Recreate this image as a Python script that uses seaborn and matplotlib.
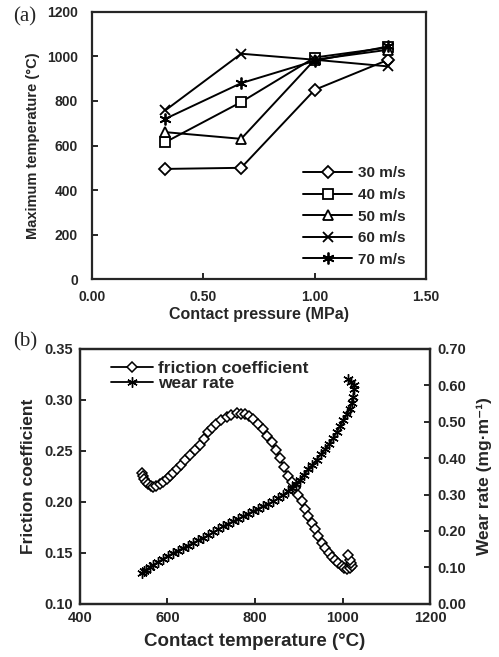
import matplotlib
matplotlib.use("Agg")
import matplotlib.pyplot as plt
import seaborn as sns
import pandas as pd

# --- datos panel (a): temperatura maxima vs presion de contacto ---
pressure = [0.33, 0.67, 1.00, 1.33]
temp_30 = [495, 500, 850, 985]
temp_40 = [615, 795, 995, 1040]
temp_50 = [660, 630, 985, 1030]
temp_60 = [758, 1012, 985, 955]
temp_70 = [720, 880, 980, 1045]
speed_labels = ["30 m/s", "40 m/s", "50 m/s", "60 m/s", "70 m/s"]

# --- datos panel (b): coeficiente de friccion y tasa de desgaste ---
fric_temp = [543, 544, 546, 550, 556, 562, 568, 575, 583, 590, 598, 605, 613,
             622, 632, 641, 651, 662, 674, 683, 693, 702, 712, 723, 735, 746,
             758, 768, 777, 786, 796, 808, 819, 828, 838, 847, 857, 866, 876,
             884, 891, 899, 907, 915, 922, 930, 937, 945, 952, 960, 968, 975,
             983, 990, 998, 1004, 1010, 1016, 1021, 1019, 1017, 1013]
fric_coef = [0.228, 0.225, 0.222, 0.219, 0.217, 0.2155, 0.215, 0.2155, 0.217,
             0.219, 0.222, 0.225, 0.228, 0.232, 0.2365, 0.241, 0.246, 0.251,
             0.256, 0.262, 0.268, 0.272, 0.276, 0.280, 0.283, 0.285, 0.287,
             0.2865, 0.286, 0.284, 0.281, 0.276, 0.271, 0.265, 0.259, 0.251,
             0.243, 0.234, 0.225, 0.219, 0.214, 0.207, 0.201, 0.193, 0.186,
             0.179, 0.173, 0.166, 0.160, 0.155, 0.150, 0.146, 0.143, 0.140,
             0.137, 0.135, 0.134, 0.135, 0.137, 0.140, 0.143, 0.148]
wear_temp = [543, 547, 552, 560, 568, 579, 590, 601, 613, 624, 636, 647, 659,
             670, 682, 693, 705, 716, 728, 739, 750, 762, 773, 784, 796, 807,
             819, 830, 842, 853, 865, 875, 884, 893, 903, 912, 922, 931, 941,
             950, 960, 970, 979, 987, 994, 1002, 1010, 1016, 1021, 1024, 1027,
             1027, 1026, 1020, 1013]
wear_rate = [0.084, 0.089, 0.094, 0.100, 0.107, 0.115, 0.123, 0.131, 0.139,
             0.146, 0.153, 0.160, 0.167, 0.174, 0.181, 0.188, 0.196, 0.204,
             0.213, 0.220, 0.226, 0.233, 0.240, 0.247, 0.254, 0.261, 0.268,
             0.274, 0.281, 0.290, 0.300, 0.309, 0.318, 0.329, 0.341, 0.355,
             0.369, 0.382, 0.396, 0.410, 0.424, 0.440, 0.456, 0.472, 0.488,
             0.504, 0.520, 0.536, 0.552, 0.568, 0.584, 0.593, 0.602, 0.610,
             0.618]

sns.set_style("ticks")
plt.rcParams['font.family'] = ['Liberation Sans', 'DejaVu Sans']
plt.rcParams['font.weight'] = 'bold'
plt.rcParams['axes.labelweight'] = 'bold'
plt.rcParams['xtick.direction'] = 'in'
plt.rcParams['ytick.direction'] = 'in'
plt.rcParams['axes.linewidth'] = 1.6
plt.rcParams['xtick.major.width'] = 1.4
plt.rcParams['ytick.major.width'] = 1.4
plt.rcParams['xtick.major.size'] = 4
plt.rcParams['ytick.major.size'] = 4

fig = plt.figure(figsize=(4.99, 6.57), dpi=100)

# ======================== PANEL (a) ========================
ax1 = fig.add_axes([0.184, 0.575, 0.670, 0.407])
series_a = [temp_30, temp_40, temp_50, temp_60, temp_70]
markers_a = ["D", "s", "^", "x", (6, 2, 0)]
sizes_a = [6.5, 7, 7.5, 7.5, 8.5]
for vals, lab, mk, ms in zip(series_a, speed_labels, markers_a, sizes_a):
    df = pd.DataFrame({"p": pressure, "t": vals})
    sns.lineplot(data=df, x="p", y="t", ax=ax1, color="black", lw=1.4,
                 marker=mk, markersize=ms, markerfacecolor="white",
                 markeredgecolor="black", markeredgewidth=1.3, label=lab)

ax1.set_xlim(0, 1.5)
ax1.set_ylim(0, 1200)
ax1.set_xticks([0, 0.5, 1.0, 1.5])
ax1.set_xticklabels(["0.00", "0.50", "1.00", "1.50"])
ax1.set_yticks(range(0, 1201, 200))
ax1.tick_params(labelsize=10, pad=8)
ax1.tick_params(axis="y", pad=10)
ax1.set_xlabel("Contact pressure (MPa)", fontsize=11.5, labelpad=2)
ax1.set_ylabel("Maximum temperature (\u00b0C)", fontsize=10.5, labelpad=5)
ax1.legend(loc="lower right", frameon=False, fontsize=11, labelspacing=0.5,
           handlelength=3.2, handletextpad=0.4, bbox_to_anchor=(0.98, -0.005))
fig.text(0.026, 0.974, "(a)", fontsize=15, family="Liberation Serif",
         weight="normal", va="center")

# ======================== PANEL (b) ========================
ax2 = fig.add_axes([0.160, 0.081, 0.702, 0.388])
df_f = pd.DataFrame({"T": fric_temp, "f": fric_coef})
sns.lineplot(data=df_f, x="T", y="f", ax=ax2, sort=False, color="black",
             lw=1.3, marker="D", markersize=5.5, markerfacecolor="white",
             markeredgecolor="black", markeredgewidth=1.1,
             label="friction coefficient", legend=False)
ax2.set_xlim(400, 1200)
ax2.set_ylim(0.10, 0.35)
ax2.set_xticks(range(400, 1201, 200))
ax2.set_yticks([0.10, 0.15, 0.20, 0.25, 0.30, 0.35])
ax2.set_yticklabels(["0.10", "0.15", "0.20", "0.25", "0.30", "0.35"])
ax2.tick_params(labelsize=10.5, pad=5)
ax2.set_xlabel("Contact temperature (\u00b0C)", fontsize=13.5, labelpad=6)
ax2.set_ylabel("Friction coefficient", fontsize=12.5, labelpad=6)

ax3 = ax2.twinx()
df_w = pd.DataFrame({"T": wear_temp, "w": wear_rate})
sns.lineplot(data=df_w, x="T", y="w", ax=ax3, sort=False, color="black",
             lw=1.3, marker=(6, 2, 0), markersize=7.5, markeredgecolor="black",
             markeredgewidth=1.0, label="wear rate", legend=False)
ax3.set_ylim(0.0, 0.70)
ax3.set_yticks([0.0, 0.1, 0.2, 0.3, 0.4, 0.5, 0.6, 0.7])
ax3.set_yticklabels(["0.00", "0.10", "0.20", "0.30", "0.40", "0.50", "0.60", "0.70"])
ax3.tick_params(labelsize=10.5, pad=5, direction="in")
ax3.set_ylabel("Wear rate (mg\u00b7m\u207b\u00b9)", fontsize=12.5, labelpad=8)
for sp in ax3.spines.values():
    sp.set_linewidth(1.6)

h1, l1 = ax2.get_legend_handles_labels()
h2, l2 = ax3.get_legend_handles_labels()
ax3.legend(h1 + h2, l1 + l2, loc="upper left", frameon=False, fontsize=12.5,
           labelspacing=0.0, handlelength=2.4, handletextpad=0.3,
           borderaxespad=0.3, bbox_to_anchor=(0.055, 1.0))
fig.text(0.026, 0.479, "(b)", fontsize=15, family="Liberation Serif",
         weight="normal", va="center")

fig.savefig("out.png", dpi=100)
